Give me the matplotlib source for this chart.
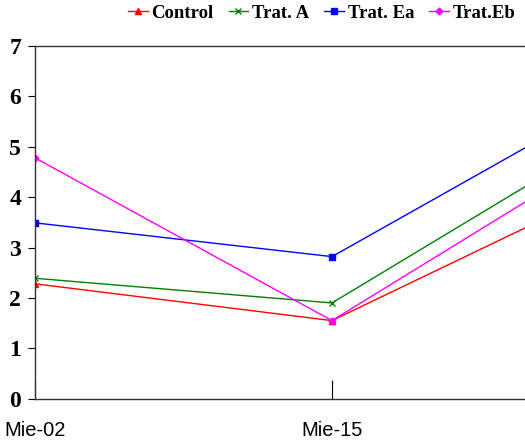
import matplotlib
matplotlib.use("Agg")
import matplotlib.pyplot as plt

categories = ["Mie-02", "Mie-15", "Mie-28"]
control = [2.28, 1.55, 4.38]
trat_a = [2.39, 1.90, 5.45]
trat_ea = [3.49, 2.82, 6.14]
trat_eb = [4.78, 1.55, 5.17]

series = [
    ("Control", control, "#ff0000", "^", 4.5),
    ("Trat. A", trat_a, "#008000", "x", 4.5),
    ("Trat. Ea", trat_ea, "#0000ff", "s", 4),
    ("Trat.Eb", trat_eb, "#ff00ff", "D", 3.5),
]

fig = plt.figure(figsize=(5.25, 4.42), dpi=100)
ax = fig.add_axes([35/525, 1 - 398.7/442, 1 - 35/525, (398.7 - 46)/442])

x = list(range(len(categories)))
for name, vals, col, mk, ms in series:
    ax.plot(x, vals, color=col, marker=mk, markersize=ms, linewidth=1.0,
            label=name, markeredgewidth=1.0)

ax.set_xticks(x[:2])
ax.set_xticklabels(categories[:2], fontfamily="Liberation Sans", fontsize=14.5)
ax.set_xlim(0, 490/297)
ax.set_ylim(0, 7)
ax.set_yticks(range(0, 8))
ax.set_yticklabels([str(i) for i in range(0, 8)],
                   fontfamily="Liberation Serif", fontweight="bold", fontsize=17)
ax.tick_params(axis="x", direction="in", length=14, pad=16, width=0.8)
ax.tick_params(axis="y", direction="out", length=5, pad=5, width=0.8)
ax.spines["right"].set_visible(False)
for s in ["left", "bottom", "top"]:
    ax.spines[s].set_linewidth(1.0)
    ax.spines[s].set_color("#333333")

leg = fig.legend(loc="upper right", bbox_to_anchor=(1.003, 1.015), ncol=4,
                 frameon=False, handlelength=1.05, handletextpad=0.2,
                 columnspacing=0.8, borderaxespad=0.2,
                 prop={"family": "Liberation Serif", "weight": "bold", "size": 13.5})

fig.savefig("out.png", dpi=100)
